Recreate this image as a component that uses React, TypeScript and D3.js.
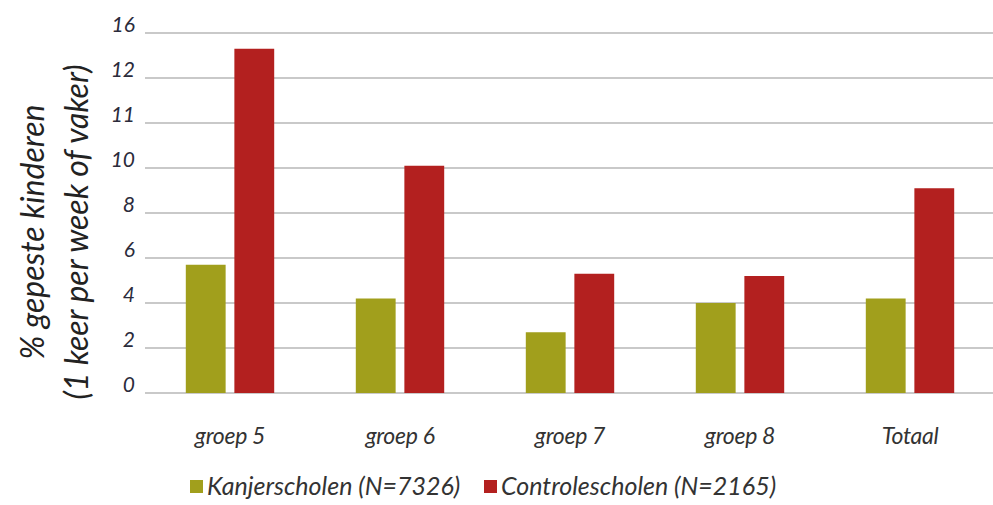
import React, { useEffect, useRef } from 'react';
import * as d3 from 'd3';

const categories = ['groep 5', 'groep 6', 'groep 7', 'groep 8', 'Totaal'];
const seriesNames = ['Kanjerscholen (N=7326)', 'Controlescholen (N=2165)'];
const kanjerValues = [5.7, 4.2, 2.7, 4.0, 4.2];
const controleValues = [15.3, 10.1, 5.3, 5.2, 9.1];
const tickValues = [0, 2, 4, 6, 8, 10, 12, 14, 16];
// labels as printed on the scanned chart
const tickLabels = ['0', '2', '4', '6', '8', '10', '11', '12', '16'];

const App: React.FC = () => {
  const ref = useRef<SVGSVGElement | null>(null);

  useEffect(() => {
    if (!ref.current) return;
    document.body.style.margin = '0';

    const width = 993;
    const height = 505;
    const left = 145;
    const right = 995;
    const top = 33;
    const bottom = 393;
    const colors = ['#a19f1c', '#b3201f'];
    const font = 'Lato, "Open Sans", sans-serif';

    const svg = d3.select(ref.current)
      .attr('width', width)
      .attr('height', height)
      .style('background', '#fff');

    const x0 = d3.scaleBand<string>()
      .domain(categories)
      .range([left, right])
      .paddingInner(0.48)
      .paddingOuter(0.24);

    const x1 = d3.scaleBand<string>()
      .domain(seriesNames)
      .range([0, x0.bandwidth()])
      .paddingInner(0.18);

    const y = d3.scaleLinear().domain([0, 16]).range([bottom, top]);

    // gridlines
    svg.append('g')
      .selectAll('line')
      .data(tickValues)
      .enter()
      .append('line')
      .attr('x1', left)
      .attr('x2', width)
      .attr('y1', d => y(d))
      .attr('y2', d => y(d))
      .attr('stroke', '#c9c9c9')
      .attr('stroke-width', 2);

    // y tick labels
    svg.append('g')
      .selectAll('text')
      .data(tickValues)
      .enter()
      .append('text')
      .attr('x', 135)
      .attr('y', d => y(d))
      .attr('dy', '-0.05em')
      .attr('text-anchor', 'end')
      .style('font-family', font)
      .style('font-style', 'italic')
      .style('font-size', '21px')
      .attr('fill', '#2b2b3b')
      .text((d, i) => tickLabels[i]);

    // bars
    const data = categories.map((c, i) => ({
      category: c,
      values: [kanjerValues[i], controleValues[i]],
    }));

    const groups = svg.append('g')
      .selectAll('g')
      .data(data)
      .enter()
      .append('g')
      .attr('transform', d => `translate(${x0(d.category)}, 0)`);

    groups.selectAll('rect')
      .data(d => d.values.map((v, j) => ({ key: seriesNames[j], value: v, j })))
      .enter()
      .append('rect')
      .attr('x', d => x1(d.key) as number)
      .attr('y', d => y(d.value))
      .attr('width', x1.bandwidth())
      .attr('height', d => y(0) - y(d.value))
      .attr('fill', d => colors[d.j]);

    // category labels
    svg.append('g')
      .selectAll('text')
      .data(categories)
      .enter()
      .append('text')
      .attr('x', d => (x0(d) as number) + x0.bandwidth() / 2)
      .attr('y', 444)
      .attr('text-anchor', 'middle')
      .style('font-family', font)
      .style('font-style', 'italic')
      .style('font-size', '23px')
      .style('letter-spacing', '-0.3px')
      .attr('fill', '#333')
      .text(d => d);

    // y title
    const title = svg.append('text')
      .attr('transform', 'translate(0, 232) rotate(-90)')
      .attr('text-anchor', 'middle')
      .style('font-family', font)
      .style('font-style', 'italic')
      .style('font-size', '32px')
      .attr('fill', '#222');
    title.append('tspan').attr('x', 0).attr('y', 44).text('% gepeste kinderen');
    title.append('tspan').attr('x', 0).attr('y', 88).text('(1 keer per week of vaker)');

    // legend
    const legendX = [190, 484];
    seriesNames.forEach((name, i) => {
      const row = svg.append('g').attr('transform', `translate(${legendX[i]}, 480)`);
      row.append('rect')
        .attr('width', 13)
        .attr('height', 13)
        .attr('fill', colors[i]);
      row.append('text')
        .attr('x', 17)
        .attr('y', 15)
        .style('font-family', font)
        .style('font-style', 'italic')
        .style('font-size', '25px')
        .attr('fill', '#333')
        .text(name);
    });

    return () => {
      d3.select(ref.current).selectAll('*').remove();
    };
  }, []);

  return <svg ref={ref}></svg>;
};

export default App;
